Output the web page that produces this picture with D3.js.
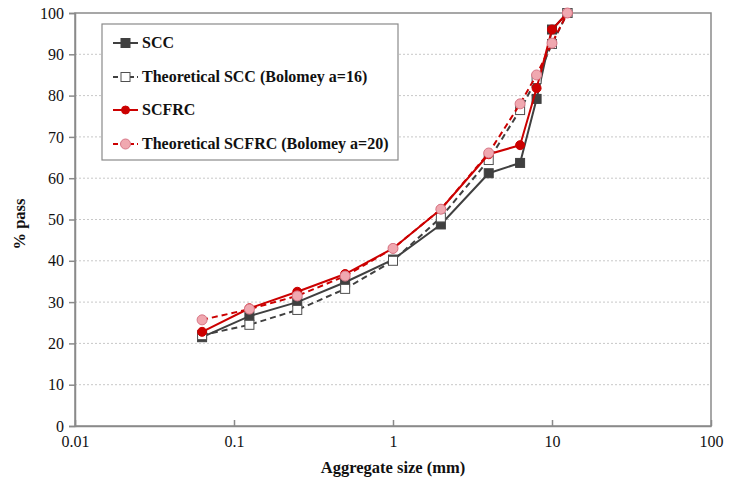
<!DOCTYPE html>
<html><head><meta charset="utf-8">
<script src="https://cdn.jsdelivr.net/npm/d3@7"></script>
<style>body{margin:0;background:#fff}svg{display:block}</style>
</head><body><div id="chart"></div>
<script>
const sizes = [0.063, 0.125, 0.25, 0.5, 1, 2, 4, 6.3, 8, 10, 12.5];
const scc = [21.5, 26.6, 30, 34.8, 40.3, 48.8, 61.2, 63.7, 79.2, 96, 100];
const theoSCC = [22, 24.5, 28.1, 33.2, 40, 50.5, 64.4, 76.5, 84, 92.5, 100];
const scfrc = [22.8, 28.5, 32.5, 36.8, 43, 52.5, 65.8, 68, 81.8, 96, 100];
const theoSCFRC = [25.7, 28.3, 31.5, 36.3, 43, 52.5, 66.1, 78, 85, 92.7, 100];
const xTicks = [0.01, 0.1, 1, 10, 100];
const xTickLabels = ["0.01", "0.1", "1", "10", "100"];
const yTicks = [0, 10, 20, 30, 40, 50, 60, 70, 80, 90, 100];
const seriesNames = ["SCC", "Theoretical SCC (Bolomey a=16)", "SCFRC", "Theoretical SCFRC (Bolomey a=20)"];

const W = 729, H = 486;
const m = {l: 75, r: 18, t: 13, b: 60};
const svg = d3.select("#chart").append("svg").attr("width", W).attr("height", H);
const x = d3.scaleLog().domain([0.01, 100]).range([m.l, W - m.r]);
const y = d3.scaleLinear().domain([0, 100]).range([H - m.b, m.t]);
const serif = "Liberation Serif, Times New Roman, serif";

svg.append("g").selectAll("line").data(yTicks.filter(d => d > 0 && d < 100)).join("line")
  .attr("x1", m.l).attr("x2", W - m.r).attr("y1", d => y(d)).attr("y2", d => y(d))
  .attr("stroke", "#c8c8c8").attr("stroke-width", 1).attr("stroke-dasharray", "2,2");

svg.append("rect").attr("x", m.l).attr("y", m.t).attr("width", W - m.r - m.l).attr("height", H - m.b - m.t)
  .attr("fill", "none").attr("stroke", "#8a8a8a").attr("stroke-width", 1.5);

const yAx = svg.append("g").attr("transform", `translate(${m.l},0)`)
  .call(d3.axisLeft(y).tickValues(yTicks).tickSize(6).tickPadding(5));
yAx.attr("font-family", null).attr("font-size", null);
yAx.select(".domain").attr("stroke", "#8a8a8a").attr("stroke-width", 1.5);
yAx.selectAll(".tick line").attr("stroke", "#8a8a8a").attr("stroke-width", 1.5);
yAx.selectAll("text").style("font-family", serif).style("font-size", "16px").attr("fill", "#111");

const xAx = svg.append("g").attr("transform", `translate(0,${H - m.b})`)
  .call(d3.axisBottom(x).tickValues(xTicks).tickFormat((d, i) => xTickLabels[i]).tickSizeInner(-6).tickSizeOuter(0).tickPadding(10));
xAx.attr("font-family", null).attr("font-size", null);
xAx.select(".domain").attr("stroke", "#8a8a8a").attr("stroke-width", 1.5);
xAx.selectAll(".tick line").attr("stroke", "#8a8a8a").attr("stroke-width", 1.5);
xAx.selectAll("text").style("font-family", serif).style("font-size", "16px").attr("fill", "#111");

svg.append("text").attr("x", (m.l + W - m.r) / 2).attr("y", 473).attr("text-anchor", "middle")
  .style("font-family", serif).style("font-weight", "bold").style("font-size", "16.5px").attr("fill", "#111")
  .text("Aggregate size (mm)");
svg.append("text").attr("transform", `translate(25,224) rotate(-90)`).attr("text-anchor", "middle")
  .style("font-family", serif).style("font-weight", "bold").style("font-size", "16.5px").attr("fill", "#111")
  .text("% pass");

const styles = [
  {data: scc, stroke: "#404040", dash: null, marker: "square", fill: "#404040", mstroke: "#404040"},
  {data: theoSCC, stroke: "#404040", dash: "6,4", marker: "square", fill: "#ffffff", mstroke: "#505050"},
  {data: scfrc, stroke: "#cc0000", dash: null, marker: "circle", fill: "#cc0000", mstroke: "#cc0000"},
  {data: theoSCFRC, stroke: "#cc0000", dash: "6,4", marker: "circle", fill: "#f0a8b0", mstroke: "#d87888"}
];

const line = d3.line().x(d => x(d[0])).y(d => y(d[1]));
styles.forEach(s => {
  const pts = sizes.map((v, i) => [v, s.data[i]]);
  const g = svg.append("g");
  g.append("path").attr("d", line(pts)).attr("fill", "none").attr("stroke", s.stroke)
    .attr("stroke-width", 2).attr("stroke-dasharray", s.dash);
  if (s.marker === "square") {
    g.selectAll("rect").data(pts).join("rect")
      .attr("x", d => x(d[0]) - 4.5).attr("y", d => y(d[1]) - 4.5).attr("width", 9).attr("height", 9)
      .attr("fill", s.fill).attr("stroke", s.mstroke).attr("stroke-width", 1);
  } else {
    g.selectAll("circle").data(pts).join("circle")
      .attr("cx", d => x(d[0])).attr("cy", d => y(d[1])).attr("r", s.fill === "#cc0000" ? 4.5 : 5)
      .attr("fill", s.fill).attr("stroke", s.mstroke).attr("stroke-width", 1);
  }
});

const lg = svg.append("g");
lg.append("rect").attr("x", 102).attr("y", 24).attr("width", 296).attr("height", 136)
  .attr("fill", "#fff").attr("stroke", "#8a8a8a").attr("stroke-width", 1.2);
const ly = [43, 77, 110, 144];
styles.forEach((s, i) => {
  const row = lg.append("g");
  row.append("line").attr("x1", 113).attr("x2", 138).attr("y1", ly[i]).attr("y2", ly[i])
    .attr("stroke", s.stroke).attr("stroke-width", 2).attr("stroke-dasharray", s.dash ? "5,3" : null);
  if (s.marker === "square") {
    row.append("rect").attr("x", 125.5 - 4.5).attr("y", ly[i] - 4.5).attr("width", 9).attr("height", 9)
      .attr("fill", s.fill).attr("stroke", s.mstroke).attr("stroke-width", 1);
  } else {
    row.append("circle").attr("cx", 125.5).attr("cy", ly[i]).attr("r", s.fill === "#cc0000" ? 4 : 5)
      .attr("fill", s.fill).attr("stroke", s.mstroke).attr("stroke-width", 1);
  }
  row.append("text").attr("x", 142).attr("y", ly[i] + 5).style("font-family", serif)
    .style("font-weight", "bold").style("font-size", "16px").attr("fill", "#111").text(seriesNames[i]);
});
</script></body></html>
